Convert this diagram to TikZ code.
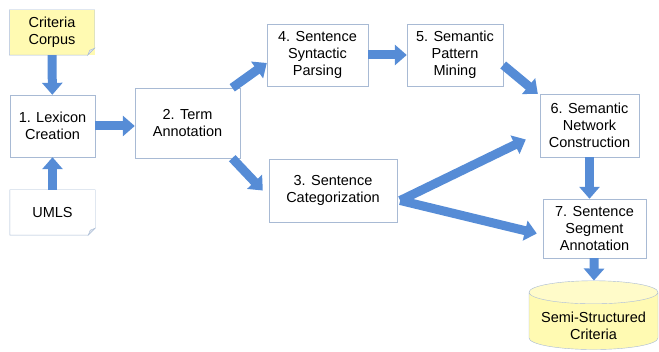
\documentclass[tikz,border=0pt]{standalone}
\usepackage{fontspec}
\setmainfont{Liberation Sans}
\usetikzlibrary{arrows.meta, shapes.geometric}

\definecolor{flowblue}{RGB}{86,140,214}
\definecolor{boxline}{RGB}{168,186,212}
\definecolor{noteyellow}{RGB}{255,250,178}

% outline of a note with a turned-down corner
\newcommand{\notebox}[1]{%
  \draw[boxline] (#1.north west) -- (#1.north east) -- ([yshift=7pt]#1.south east)
    -- ([xshift=-7pt]#1.south east) -- (#1.south west) -- cycle;
  \draw[boxline, fill=boxline!40] ([yshift=7pt]#1.south east) -- ([xshift=-7pt]#1.south east)
    -- ([shift={(-5pt,5pt)}]#1.south east) -- cycle;
}

\begin{document}
\begin{tikzpicture}[x=1pt, y=-1pt,
  stage/.style={rectangle, draw=boxline, fill=white, font=\fontsize{14.5}{17}\selectfont, align=center, inner sep=2pt},
  note/.style={rectangle, font=\fontsize{14.5}{17}\selectfont, align=center, inner sep=2pt, minimum width=85pt, minimum height=45pt},
  store/.style={cylinder, shape border rotate=90, aspect=0.22, draw=boxline, cylinder uses custom fill, cylinder body fill=noteyellow, cylinder end fill=noteyellow!70!white, font=\fontsize{14.5}{17}\selectfont, inner sep=0pt},
  flow/.style={draw=flowblue, line width=9pt, -{Triangle[width=20pt, length=12pt]}}
]
  \useasboundingbox (0,0) rectangle (659,352);

  \node[note, fill=noteyellow] (corpus) at (52,32.5) {Criteria\\Corpus};
  \notebox{corpus}
  \node[note, fill=white] (umls) at (52.5,212.5) {UMLS};
  \notebox{umls}

  \node[stage, minimum width=85pt, minimum height=62pt] (lex) at (52.5,126) {1. Lexicon\\Creation};
  \node[stage, minimum width=105pt, minimum height=70pt] (term) at (187.5,123) {2. Term\\Annotation};
  \node[stage, minimum width=101pt, minimum height=62pt] (pars) at (317.5,55) {4. Sentence\\Syntactic\\Parsing};
  \node[stage, minimum width=96pt, minimum height=62pt] (mine) at (455,55) {5. Semantic\\Pattern\\Mining};
  \node[stage, minimum width=128pt, minimum height=63pt] (cat) at (333,190.5) {3. Sentence\\Categorization};
  \node[stage, minimum width=99pt, minimum height=63pt] (net) at (589.5,125.5) {6. Semantic\\Network\\Construction};
  \node[stage, minimum width=103pt, minimum height=59pt] (seg) at (594.5,228.5) {7. Sentence\\Segment\\Annotation};
  \node[store, minimum width=129pt, minimum height=58pt] (crit) at (593.5,321)
    {\raisebox{-7pt}[\height][\depth]{\begin{tabular}{@{}c@{}}Semi-Structured\\Criteria\end{tabular}}};

  \draw[flow] (corpus) -- (lex);
  \draw[flow] (umls) -- (lex);
  \draw[flow] (lex.east) -- (lex.east -| term.west);
  \draw[flow] ([xshift=-8pt]term.north east) -- ([yshift=-8pt]pars.west);
  \draw[flow] ([xshift=-8pt]term.south east) -- ([xshift=-6pt]cat.west);
  \draw[flow] (pars) -- (mine);
  \draw[flow] ([yshift=-10pt]mine.east) -- ([xshift=-2pt]net.north west);
  \draw[flow] ([shift={(3pt,-10pt)}]cat.east) -- ([shift={(-14pt,-14pt)}]net.west);
  \draw[flow] ([shift={(3pt,-10pt)}]cat.east) -- ([shift={(-6pt,-5pt)}]seg.west);
  \draw[flow] (net.south) -- (net.south |- seg.north);
  \draw[flow] (seg) -- (crit);
\end{tikzpicture}
\end{document}
